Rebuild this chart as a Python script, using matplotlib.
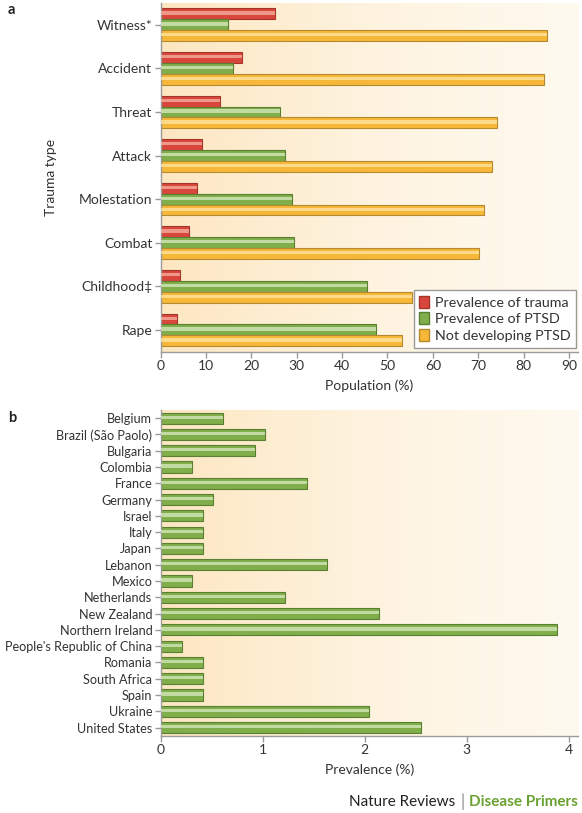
import numpy as np
import matplotlib.pyplot as plt
from matplotlib.patches import Patch
from matplotlib.colors import LinearSegmentedColormap

plt.rcParams['font.family'] = ['Lato', 'DejaVu Sans']

# panel a data
trauma_types = ['Witness*', 'Accident', 'Threat', 'Attack', 'Molestation',
                'Combat', 'Childhood\u2021', 'Rape']
prev_trauma = [25.1, 17.9, 13.0, 9.1, 8.1, 6.3, 4.2, 3.5]
prev_ptsd = [14.8, 15.9, 26.2, 27.3, 29.0, 29.3, 45.4, 47.4]
not_ptsd = [85.1, 84.4, 74.1, 73.0, 71.2, 70.1, 55.3, 53.2]

# panel b data
countries = ['Belgium', 'Brazil (São Paolo)', 'Bulgaria', 'Colombia', 'France',
             'Germany', 'Israel', 'Italy', 'Japan', 'Lebanon', 'Mexico',
             'Netherlands', 'New Zealand', 'Northern Ireland',
             "People's Republic of China", 'Romania', 'South Africa', 'Spain',
             'Ukraine', 'United States']
prevalence = [0.61, 1.02, 0.92, 0.31, 1.43, 0.51, 0.41, 0.41, 0.41, 1.63,
              0.31, 1.22, 2.14, 3.88, 0.21, 0.41, 0.41, 0.41, 2.04, 2.55]

txt = '#333333'
axc = '#9a9a9a'
RED = ('#d9463b', '#f6b5a6', '#a5342b')
GREEN = ('#7fae4a', '#d9ebc0', '#5a7f33')
YELLOW = ('#f7b83a', '#fde6a6', '#b58a2e')

W, H = 582, 813
fig = plt.figure(figsize=(W / 100, H / 100), dpi=100)


def add_ax(l, t, r, b):
    return fig.add_axes([l / W, 1 - b / H, (r - l) / W, (b - t) / H])


def background(ax):
    grad = np.linspace(0, 1, 256).reshape(1, -1)
    cm = LinearSegmentedColormap.from_list('bg', ['#fde7c2', '#fef3df', '#fffaf0'])
    ax.imshow(grad, cmap=cm, aspect='auto', extent=[0, 1, 0, 1],
              transform=ax.transAxes, zorder=0)


def shiny_barh(ax, y, vals, h, cols):
    base, light, edge = cols
    ax.barh(y, vals, height=h, color=base, edgecolor=edge, linewidth=0.8, zorder=2)
    ax.barh(np.asarray(y) - h * 0.08, vals, height=h * 0.3, color=light,
            alpha=0.75, linewidth=0, zorder=3)


def style(ax, fs):
    for s in ['top', 'right']:
        ax.spines[s].set_visible(False)
    for s in ['left', 'bottom']:
        ax.spines[s].set_color(axc)
        ax.spines[s].set_linewidth(1.0)
    ax.tick_params(colors=axc, labelcolor=txt, labelsize=fs, length=4, width=1, pad=2)


# ---- panel a ----
ax1 = add_ax(160.7, 3, 578, 351.7)
background(ax1)
y1 = np.arange(len(trauma_types))
bh = 0.25
shiny_barh(ax1, y1 - bh, prev_trauma, bh, RED)
shiny_barh(ax1, y1, prev_ptsd, bh, GREEN)
shiny_barh(ax1, y1 + bh, not_ptsd, bh, YELLOW)
ax1.set_xlim(0, 92)
ax1.set_ylim(7.5, -0.5)
ax1.set_xticks(range(0, 91, 10))
ax1.set_yticks(y1)
ax1.set_yticklabels(trauma_types)
style(ax1, 10)
ax1.set_xlabel('Population (%)', fontsize=10, color=txt, labelpad=5)
ax1.set_ylabel('Trauma type', fontsize=10, color=txt, labelpad=16)
handles = [Patch(facecolor=c[0], edgecolor=c[2]) for c in (RED, GREEN, YELLOW)]
leg = ax1.legend(handles, ['Prevalence of trauma', 'Prevalence of PTSD',
                           'Not developing PTSD'],
                 loc='lower right', bbox_to_anchor=(0.996, 0.012),
                 fontsize=10.3, fancybox=False, framealpha=1, edgecolor=axc,
                 handlelength=0.7, handleheight=0.9, handletextpad=0.4,
                 borderpad=0.4, labelspacing=0.25, borderaxespad=0)
leg.get_frame().set_linewidth(1.0)
for t in leg.get_texts():
    t.set_color(txt)

# ---- panel b ----
ax2 = add_ax(160.7, 410, 578, 735.7)
background(ax2)
y2 = np.arange(len(countries))
shiny_barh(ax2, y2, prevalence, 0.68, GREEN)
ax2.set_xlim(0, 4.09)
ax2.set_ylim(19.5, -0.5)
ax2.set_xticks(range(0, 5))
ax2.set_yticks(y2)
ax2.set_yticklabels(countries)
style(ax2, 9.1)
ax2.tick_params(axis='x', labelsize=10)
ax2.set_xlabel('Prevalence (%)', fontsize=10, color=txt, labelpad=5)

# panel letters and footer
fig.text(8 / W, 1 - 10 / H, 'a', fontsize=10.5, fontweight='bold', color='#222222',
         va='center', ha='left')
fig.text(8 / W, 1 - 418 / H, 'b', fontsize=10.5, fontweight='bold', color='#222222',
         va='center', ha='left')

fy = 1 - 802 / H
t3 = fig.text(578 / W, fy, 'Disease Primers', fontsize=11, fontweight='bold',
              color='#6aa231', ha='right', va='center')
fig.canvas.draw()
r = fig.canvas.get_renderer()
x3 = t3.get_window_extent(r).x0
t2 = fig.text((x3 - 7) / W, fy, '|', fontsize=12, color='#888888',
              ha='center', va='center')
fig.text((x3 - 14) / W, fy, 'Nature Reviews', fontsize=11, color='#222222',
         ha='right', va='center')

fig.savefig('out.png', dpi=100)
